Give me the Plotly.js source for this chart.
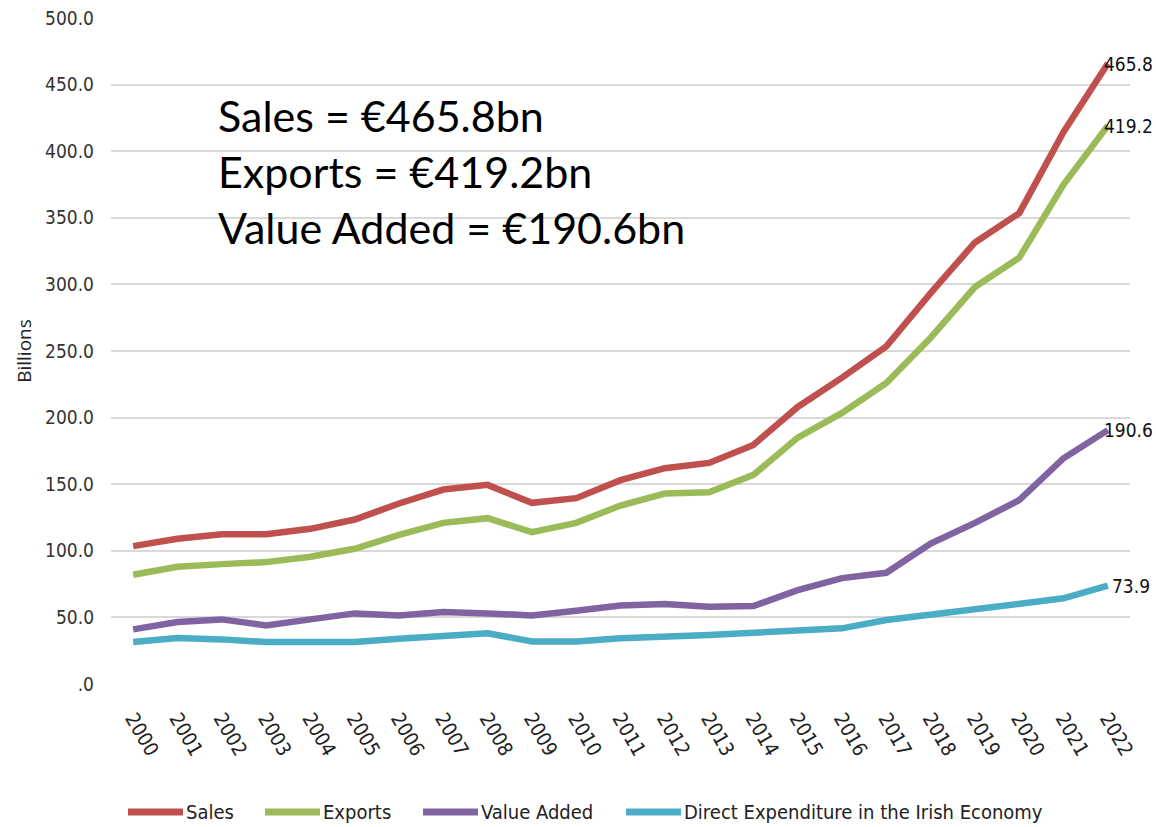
<!DOCTYPE html>
<html>
<head>
<meta charset="utf-8">
<script src="https://cdn.plot.ly/plotly-3.0.1.min.js"></script>
<style>html,body{margin:0;padding:0;background:#fff;}#chart{width:1156px;height:827px;}</style>
</head>
<body>
<div id="chart"></div>
<script>
const years = ["2000","2001","2002","2003","2004","2005","2006","2007","2008","2009","2010","2011","2012","2013","2014","2015","2016","2017","2018","2019","2020","2021","2022"];
const sales = [103.5,109,112.5,112.5,116.5,123.5,135.5,146,149.5,136,139.5,153,162,166,179.5,208,230,253.5,293.5,331.5,353.5,414.5,465.8];
const exportsV = [82,88,90,91.5,95.5,101.5,112,121,124.5,114,121,134,143,144,157,185,203.5,226,260,298,320,375,419.2];
const valueAdded = [41,46.5,48.5,44,48.5,53,51.5,54,53,51.5,55,59,60,58,58.5,70.5,79.5,83.5,105.5,121,138,169.5,190.6];
const directExp = [31.5,34.5,33.5,31.5,31.5,31.5,34,36.5,38,32,32,34.3,35,36.8,38.5,40.5,41.8,48,51.8,56.8,60.6,64.3,73.9];
const seriesNames = ["Sales","Exports","Value Added","Direct Expenditure in the Irish Economy"];
const tickVals = [0,50,100,150,200,250,300,350,400,450,500];
const tickText = [".0","50.0","100.0","150.0","200.0","250.0","300.0","350.0","400.0","450.0","500.0"];
const summaryLines = ["Sales = €465.8bn","Exports = €419.2bn","Value Added = €190.6bn"];

const colors = ["#C0504D","#9BBB59","#8064A2","#4BACC6"];
const allSeries = [sales, exportsV, valueAdded, directExp];
const narrow = "'Liberation Sans Narrow', 'DejaVu Sans Condensed', Arial, sans-serif";

const traces = allSeries.map((s,i)=>({
  type:'scatter', mode:'lines', x: years, y: s, name: seriesNames[i],
  line:{color:colors[i], width:6.5}, hoverinfo:'skip', showlegend:false
}));

const lastIdx = years.length-1;
const endAnnotations = [0,1,2,3].map(i=>({
  x: lastIdx, y: allSeries[i][lastIdx],
  xref:'x', yref:'y', text: allSeries[i][lastIdx].toFixed(1),
  showarrow:false, xanchor:'left', yanchor:'middle', xshift: i===3 ? 2 : -6,
  font:{family:narrow, size:19, color:'#111'}
}));

// manual legend (swatch + label), positioned in paper coordinates
const plotL = 111, plotR = 1130, plotT = 18, plotB = 684;
const px2x = p => (p - plotL) / (plotR - plotL);
const py2y = p => (plotB - p) / (plotB - plotT);
const legendStarts = [128, 265, 423, 626];
const legendY = py2y(812);
const legendShapes = legendStarts.map((s,i)=>({
  type:'line', xref:'paper', yref:'paper', x0:px2x(s), x1:px2x(s+55), y0:legendY, y1:legendY,
  line:{color:colors[i], width:7}
}));
const legendLabels = legendStarts.map((s,i)=>({
  xref:'paper', yref:'paper', x:px2x(s+56), y:legendY, xanchor:'left', yanchor:'middle',
  showarrow:false, text:seriesNames[i], font:{family:narrow, size:20, color:'#222'}
}));

const layout = {
  width:1156, height:827,
  margin:{l:plotL, r:1156-plotR, t:plotT, b:827-plotB},
  paper_bgcolor:'#fff', plot_bgcolor:'#fff',
  showlegend:false,
  xaxis:{type:'category', range:[-0.5,22.5], showgrid:false, zeroline:false, showline:false,
    ticks:'', tickangle:60, ticklabelstandoff:18, tickfont:{family:narrow, size:20, color:'#222'}},
  yaxis:{range:[0,500], tickvals:tickVals, ticktext:tickText, showgrid:true, gridcolor:'#D9D9D9', gridwidth:2,
    zeroline:false, showline:false, ticks:'', ticklabelstandoff:16, tickfont:{family:narrow, size:19, color:'#333'},
    title:{text:'Billions', font:{family:"'Open Sans', sans-serif", size:19, color:'#222'}, standoff:8}},
  shapes: legendShapes,
  annotations: endAnnotations.concat(legendLabels).concat([{
    xref:'paper', yref:'paper', x:px2x(216), y:py2y(88), xanchor:'left', yanchor:'top', align:'left',
    showarrow:false, text: summaryLines.join('<br>'),
    font:{family:"Lato, 'Open Sans', sans-serif", size:43, color:'#000'}
  }])
};

Plotly.newPlot('chart', traces, layout, {displayModeBar:false, staticPlot:true});
</script>
</body>
</html>
